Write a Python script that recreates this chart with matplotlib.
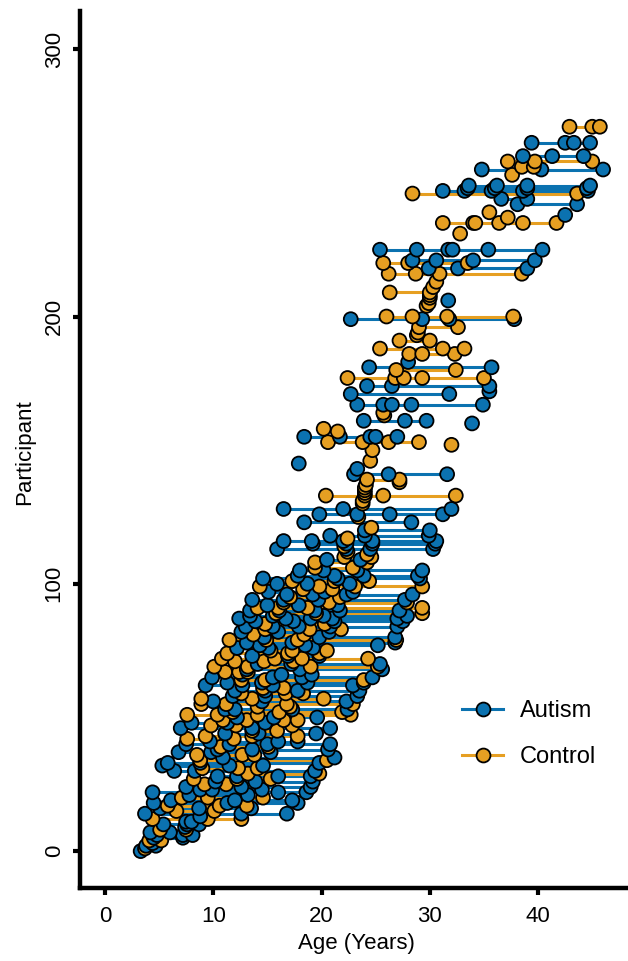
import matplotlib
matplotlib.use("Agg")
import matplotlib.pyplot as plt
from matplotlib.lines import Line2D

plt.rcParams['font.family'] = ['Liberation Sans', 'DejaVu Sans']

# ---------------- data ----------------
autism_ids = [0, 2, 3, 5, 6, 7, 9, 10, 11, 13, 14, 16, 18, 19, 21, 22, 23, 24, 26, 28,
              30, 32, 33, 35, 37, 38, 40, 41, 44, 46, 48, 50, 53, 56, 58, 60, 62, 63, 65, 66,
              68, 70, 73, 76, 77, 78, 80, 82, 84, 86, 87, 88, 90, 92, 94, 96, 97, 100, 102, 103,
              105, 109, 113, 115, 116, 118, 120, 123, 126, 128, 141, 143, 145, 155, 160, 161, 167, 171, 172, 174,
              181, 183, 199, 206, 218, 221, 225, 238, 242, 244, 247, 248, 249, 255, 260, 265]
autism_ages = [[3.3], [3.8, 4.7], [4.4], [4.5, 7.2], [4.8, 7.2, 8.1], [4.2, 6.0], [7.4], [5.4, 7.6, 8.7],
               [7.5, 8.0], [8.8], [3.7, 12.6, 16.8], [5.1, 8.7, 13.5], [4.5, 11.3, 17.8], [6.1, 12.0, 17.3],
               [7.8, 13.2], [4.4, 16.0, 18.6], [8.8, 9.9, 14.5], [7.5, 12.6, 19.0], [10.2, 13.9, 19.2],
               [10.4, 12.2, 16.0, 19.0], [6.4, 8.3, 19.4], [5.3, 11.5, 14.6], [5.8, 8.8, 19.8], [10.9, 21.2],
               [6.8, 9.8, 15.3], [10.4, 13.6, 20.6], [7.5, 11.5, 15.0, 20.8], [9.7, 16.0, 17.8],
               [11.1, 14.2, 19.5], [7.0, 13.6, 20.8], [8.0, 11.3, 14.8], [12.2, 15.6, 19.6],
               [11.1, 12.0, 17.3, 22.4], [10.0, 14.5, 22.3], [11.8, 14.8, 23.3], [12.0, 14.8, 17.8, 23.5],
               [9.3, 12.7, 15.5, 22.9], [11.3, 14.5, 18.7, 23.9], [9.9, 15.5, 18.2, 24.7], [12.7, 16.3, 19.1],
               [13.1, 18.0, 25.6], [14.1, 17.2, 25.4], [13.6, 16.9, 19.8], [12.2, 15.1, 19.2],
               [14.3, 18.5, 25.2], [13.1, 17.3, 26.8], [14.7, 19.8, 26.8], [12.6, 16.0, 20.7],
               [13.0, 15.5, 17.9, 20.8, 27.0], [13.9, 17.4, 21.2, 27.5], [12.4, 16.7, 19.0, 21.0, 27.0],
               [13.4, 15.5, 20.2, 27.9], [13.4, 16.1, 19.4, 21.7, 27.2], [15.0, 17.9, 21.5],
               [13.6, 16.5, 19.7, 27.7], [16.8, 19.2, 22.3, 28.4], [15.1, 20.3, 22.9], [15.9, 18.7, 22.6],
               [14.6, 21.5, 29.1], [17.8, 21.2, 23.9, 28.9], [18.0, 20.2, 23.3, 29.3], [20.5, 23.6],
               [15.9, 22.3, 24.5, 30.3], [19.2, 22.3, 24.7, 30.5], [16.5, 19.1, 22.0, 24.7, 30.6],
               [20.8, 24.0, 29.9], [24.0, 30.0], [18.4, 28.3], [19.8, 23.3, 26.3, 31.2], [16.5, 22.0, 32.0],
               [23.0, 26.2, 31.6], [23.3], [17.9], [18.4, 21.7, 24.5, 25.0, 27.0], [33.9], [23.9, 27.7, 29.7],
               [23.3, 25.7, 26.5, 28.3, 34.9], [22.7, 31.8], [35.5], [24.2, 26.5, 35.5],
               [24.4, 35.7], [28.0], [22.7, 29.3, 31.8, 37.8], [31.7], [29.9, 32.6, 39.0],
               [28.4, 30.6, 34.0, 39.7], [25.4, 28.8, 31.7, 32.1, 35.4, 40.4], [42.5], [38.1, 43.6],
               [36.6, 39.0], [31.2, 33.2, 35.7, 38.6, 44.6], [33.5, 36.0, 39.0, 44.5],
               [33.6, 36.2, 39.0, 44.8], [34.8, 40.3, 46.0], [38.6, 41.3, 44.2], [39.4, 42.5, 43.3, 44.8]]

control_ids = [1, 4, 8, 12, 15, 17, 20, 25, 27, 29, 31, 34, 36, 39, 42, 43, 45, 47, 49, 51,
               52, 54, 55, 57, 59, 61, 64, 67, 69, 71, 72, 74, 75, 79, 81, 83, 85, 89, 91, 93,
               95, 98, 99, 101, 106, 108, 110, 111, 112, 114, 117, 121, 125, 130, 131, 133, 134, 135, 136, 137,
               138, 139, 146, 150, 152, 153, 157, 158, 163, 164, 177, 180, 186, 188, 191, 193, 194, 196, 200, 204,
               205, 207, 208, 209, 211, 213, 216, 220, 231, 235, 237, 239, 246, 253, 256, 258, 271]
control_ages = [[3.7], [4.1, 5.2], [5.1, 7.5], [4.4, 9.5, 12.6], [6.6, 10.1], [5.8, 10.6, 13.1],
                [7.1, 9.5, 14.6], [9.2, 11.2], [8.2, 12.2, 15.3], [13.2, 19.8], [9.0, 12.3, 14.1],
                [8.8, 20.5], [8.5, 12.7, 13.8], [10.7, 15.1], [7.6, 11.9], [9.3, 13.6, 17.8], [13.6, 15.9],
                [9.8, 12.1, 17.3], [10.9, 13.1, 16.5, 17.8], [7.6, 10.4, 14.1, 22.7], [11.8, 16.1, 21.9],
                [14.1, 17.1], [8.9, 11.2, 16.8, 22.9], [8.9, 13.6, 20.2], [12.6, 16.7, 18.3], [14.6, 16.5],
                [12.6, 14.8, 23.9], [11.1, 12.4, 13.2], [10.1, 13.2, 19.0, 25.2], [12.0, 14.7, 17.4],
                [10.8, 15.7, 18.2, 24.3], [11.3, 16.9, 19.8], [15.3, 17.3, 20.5], [11.5, 14.9, 17.8, 26.9],
                [13.7, 18.4], [14.8, 18.9, 21.8], [14.8, 20.3], [15.8, 19.5, 29.3], [14.1, 16.0, 18.7, 29.3],
                [16.5, 20.7, 27.9], [17.1, 21.7], [18.3, 21.0], [14.3, 19.8, 23.1, 29.3], [17.3, 21.2, 24.4],
                [19.4, 22.9], [19.4, 24.2], [22.1, 24.6], [24.2], [22.4], [22.1], [22.4], [24.6], [23.4],
                [23.8], [23.8], [20.4, 24.0, 25.7, 32.4], [24.0], [24.0], [24.0], [24.1],
                [27.2], [24.2, 27.2], [24.5], [24.7], [32.0], [20.6, 23.8, 26.2, 29.0], [21.5], [20.2],
                [25.8], [25.7], [22.4, 26.8, 27.6, 29.3, 35.0], [26.9, 32.4], [28.1, 29.3, 32.3],
                [25.4, 31.2, 33.2], [27.2, 30.0], [28.8], [28.9], [29.0, 32.6], [26.0, 28.4, 31.6, 37.7],
                [29.7], [29.9], [30.0], [30.0], [26.3, 30.0], [30.3], [30.6], [26.2, 28.7, 30.9, 38.5],
                [25.7, 28.0, 33.5], [32.8], [31.2, 34.0, 34.2, 36.4, 38.6, 41.7], [37.2], [35.5],
                [28.4, 43.6], [37.6], [38.5, 39.6], [37.2, 39.7, 45.0], [42.9, 45.0, 45.7]]

group_names = ["Autism", "Control"]
group_colors = {"Autism": "#0B72B0", "Control": "#E69F22"}
x_ticks = [0, 10, 20, 30, 40]
y_ticks = [0, 100, 200, 300]

# ---------------- figure ----------------
W, H = 628, 961
fig = plt.figure(figsize=(W / 100, H / 100), dpi=100)
ax_left, ax_bottom, ax_top = 80, 888, 11
ax = fig.add_axes([ax_left / W, 1 - ax_bottom / H, 1 - ax_left / W, (ax_bottom - ax_top) / H])
ax.set_xlim(-2.3, 48.3)
ax.set_ylim(-13.8, 314.3)

rows = []
for pid, ages in zip(autism_ids, autism_ages):
    rows.append((pid, "Autism", ages))
for pid, ages in zip(control_ids, control_ages):
    rows.append((pid, "Control", ages))
rows.sort(key=lambda r: r[0])

lw = 2.2
ms = 10
for pid, grp, ages in rows:
    if len(ages) > 1:
        ax.plot([min(ages), max(ages)], [pid, pid], color=group_colors[grp], lw=lw,
                solid_capstyle='butt', zorder=2)
xs, ys, cs = [], [], []
for pid, grp, ages in rows:
    for a in ages:
        xs.append(a)
        ys.append(pid)
        cs.append(group_colors[grp])
ax.scatter(xs, ys, s=ms ** 2, c=cs, edgecolors='black', linewidths=1.3, zorder=3)

for s in ['top', 'right']:
    ax.spines[s].set_visible(False)
for s in ['left', 'bottom']:
    ax.spines[s].set_linewidth(3.2)
    ax.spines[s].set_capstyle('projecting')
ax.set_xticks(x_ticks)
ax.set_yticks(y_ticks)
ax.tick_params(axis='both', width=3, length=5, labelsize=16, colors='black')
ax.tick_params(axis='x', pad=8)
ax.tick_params(axis='y', pad=6)
for lab in ax.get_yticklabels():
    lab.set_rotation(90)
    lab.set_va('center')

fig.text(25 / W, 1 - 452 / H, "Participant", rotation=90, ha='center', va='center', fontsize=16)
fig.text(356 / W, 1 - 943 / H, "Age (Years)", ha='center', va='center', fontsize=16)

handles = [Line2D([0], [0], color=group_colors[g], lw=lw, marker='o', markersize=ms,
                  markerfacecolor=group_colors[g], markeredgecolor='black', markeredgewidth=1.3)
           for g in group_names]
fig.legend(handles, group_names, loc='center left', bbox_to_anchor=(462 / W, 1 - 734 / H),
           frameon=False, fontsize=17, handlelength=1.75, handletextpad=0.7,
           labelspacing=1.0, borderpad=0, borderaxespad=0)

fig.savefig("out.png", dpi=100)
